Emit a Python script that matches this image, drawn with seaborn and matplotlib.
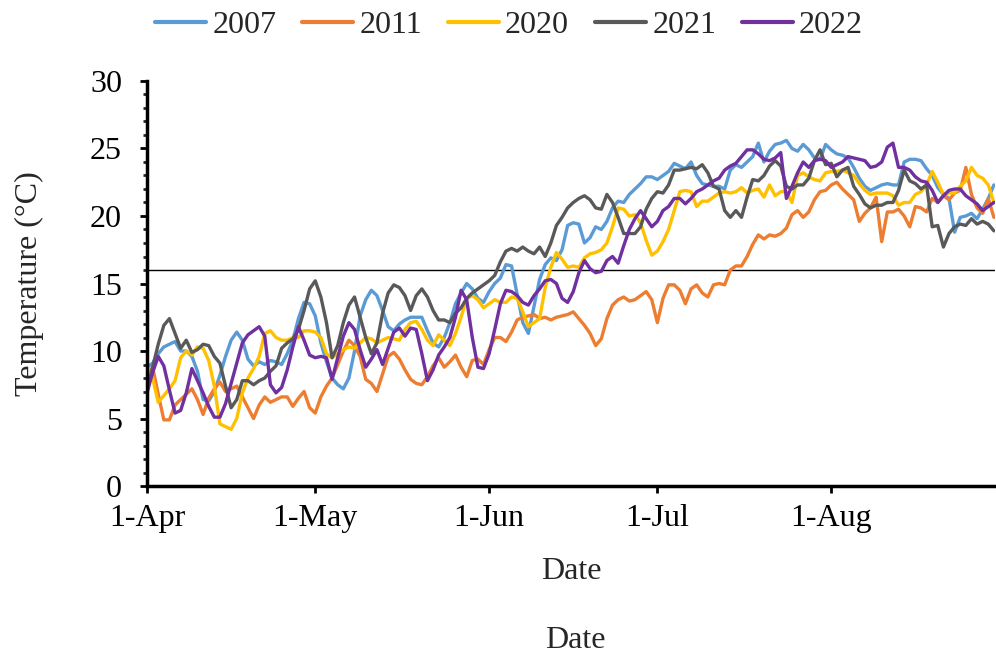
import pandas as pd
import matplotlib
matplotlib.use('Agg')
import matplotlib.pyplot as plt
from matplotlib.ticker import MultipleLocator
import seaborn as sns

# daily mean temperatures, 1 Apr - 30 Aug
t2007 = [8.8, 9.1, 9.8, 10.3, 10.5, 10.7, 10.0, 10.0, 9.6, 8.5,
         6.4, 6.3, 7.0, 8.2, 9.6, 10.8, 11.4, 10.8, 9.4, 8.9,
         9.2, 9.0, 9.3, 9.2, 9.0, 9.8, 10.8, 12.4, 13.6, 13.5,
         12.6, 10.6, 9.2, 8.0, 7.5, 7.2, 8.0, 10.0, 12.6, 13.8,
         14.5, 14.1, 13.0, 11.8, 11.5, 12.0, 12.3, 12.5, 12.5, 12.5,
         11.5, 10.6, 10.3, 11.0, 12.1, 13.5, 14.3, 15.0, 14.6, 13.9,
         13.6, 14.4, 15.0, 15.4, 16.4, 16.3, 14.2, 12.1, 11.3, 13.3,
         15.3, 16.4, 16.9, 16.7, 17.5, 19.3, 19.5, 19.4, 18.0, 18.4,
         19.2, 19.0, 19.6, 20.6, 21.1, 21.0, 21.6, 22.0, 22.4, 22.9,
         22.9, 22.7, 23.0, 23.3, 23.9, 23.7, 23.5, 24.0, 23.0, 22.4,
         22.3, 22.2, 22.2, 22.0, 23.4, 23.8, 23.6, 24.0, 24.4, 25.4,
         24.0, 24.8, 25.3, 25.4, 25.6, 25.0, 24.8, 25.3, 24.9, 24.3,
         24.2, 25.3, 24.9, 24.6, 24.5, 24.3, 23.6, 22.8, 22.2, 21.9,
         22.1, 22.3, 22.4, 22.3, 22.3, 24.0, 24.2, 24.2, 24.1, 23.5,
         23.0, 22.1, 21.6, 21.3, 18.8, 19.9, 20.0, 20.2, 19.8, 20.5,
         21.3, 22.3]
t2011 = [8.2, 8.8, 6.8, 4.9, 4.9, 6.0, 6.4, 6.8, 7.2, 6.4,
         5.3, 6.5, 7.2, 7.7, 7.0, 7.2, 7.4, 6.6, 5.8, 5.0,
         6.0, 6.6, 6.2, 6.4, 6.6, 6.6, 5.9, 6.5, 7.0, 5.8,
         5.4, 6.6, 7.4, 8.0, 9.0, 10.0, 10.8, 10.4, 9.6, 7.9,
         7.6, 7.0, 8.3, 9.6, 9.9, 9.4, 8.6, 7.9, 7.6, 7.5,
         8.1, 8.9, 9.5, 8.8, 9.2, 9.7, 8.8, 8.1, 9.3, 9.4,
         9.0, 10.1, 11.0, 11.0, 10.7, 11.4, 12.3, 12.5, 12.6, 12.7,
         12.4, 12.5, 12.3, 12.5, 12.6, 12.7, 12.9, 12.4, 11.9, 11.3,
         10.4, 10.9, 12.4, 13.4, 13.8, 14.0, 13.7, 13.8, 14.1, 14.4,
         13.8, 12.1, 13.9, 14.9, 14.9, 14.5, 13.5, 14.6, 14.9, 14.3,
         14.0, 14.9, 15.0, 14.9, 16.0, 16.3, 16.3, 17.0, 17.9, 18.6,
         18.3, 18.6, 18.5, 18.7, 19.1, 20.1, 20.4, 19.9, 20.3, 21.2,
         21.8, 21.9, 22.3, 22.5, 22.0, 21.6, 21.2, 19.6, 20.2, 20.6,
         21.4, 18.1, 20.3, 20.3, 20.5, 20.0, 19.2, 20.7, 20.6, 20.3,
         21.3, 21.0, 21.5, 21.2, 21.7, 21.9, 23.6, 21.6, 20.6, 20.2,
         21.3, 19.9]
t2020 = [8.8, 8.0, 6.2, 6.7, 7.2, 7.8, 9.5, 10.0, 9.7, 10.3,
         10.2, 9.3, 7.4, 4.6, 4.4, 4.2, 5.0, 6.9, 8.0, 8.7,
         9.6, 11.3, 11.5, 11.0, 10.8, 10.8, 11.0, 11.0, 11.5, 11.5,
         11.4, 11.0, 9.8, 9.5, 9.8, 10.1, 10.3, 10.2, 10.6, 11.0,
         10.9, 10.6, 10.8, 11.0, 10.9, 10.8, 11.6, 12.1, 12.2, 11.6,
         10.8, 10.4, 11.2, 10.8, 10.4, 11.3, 12.5, 13.9, 14.1, 13.8,
         13.2, 13.5, 13.8, 13.6, 13.6, 14.0, 13.9, 12.9, 11.8, 12.1,
         12.4, 14.7, 16.2, 17.3, 16.8, 16.2, 16.3, 16.2, 16.9, 17.2,
         17.3, 17.5, 18.0, 19.2, 20.6, 20.5, 20.0, 20.1, 19.5, 18.2,
         17.1, 17.4, 18.1, 19.0, 20.4, 21.8, 21.9, 21.8, 20.7, 21.1,
         21.1, 21.4, 21.7, 21.8, 21.7, 21.8, 22.1, 21.7, 21.9, 22.0,
         21.4, 22.3, 21.5, 21.8, 21.8, 21.0, 23.0, 23.2, 22.9, 22.7,
         22.6, 23.2, 23.3, 23.3, 23.4, 23.2, 23.0, 22.4, 21.9, 21.6,
         21.7, 21.7, 21.7, 21.5, 20.8, 21.0, 21.0, 21.6, 21.8, 22.3,
         23.3, 22.5, 21.6, 21.7, 21.7, 22.2, 22.6, 23.6, 23.0, 22.8,
         22.3, 21.0]
t2021 = [7.1, 8.8, 10.5, 11.9, 12.4, 11.3, 10.2, 10.8, 9.9, 10.1,
         10.5, 10.4, 9.6, 9.1, 7.4, 5.8, 6.4, 7.8, 7.8, 7.5,
         7.8, 8.0, 8.5, 8.9, 10.2, 10.6, 10.9, 11.6, 13.0, 14.6,
         15.2, 14.0, 12.1, 9.5, 10.4, 12.1, 13.4, 14.0, 12.5, 11.0,
         9.8, 10.6, 12.8, 14.3, 14.9, 14.7, 14.1, 13.0, 14.1, 14.6,
         14.0, 13.0, 12.3, 12.3, 12.1, 12.8, 13.2, 13.9, 14.3, 14.6,
         14.9, 15.2, 15.6, 16.6, 17.4, 17.6, 17.4, 17.7, 17.4, 17.2,
         17.7, 17.0, 18.0, 19.3, 19.9, 20.6, 21.0, 21.3, 21.5, 21.2,
         20.6, 20.5, 21.6, 21.0, 19.9, 18.7, 18.7, 18.7, 19.2, 20.5,
         21.3, 21.8, 21.7, 22.3, 23.4, 23.4, 23.5, 23.6, 23.5, 23.8,
         23.2, 22.2, 22.0, 20.4, 19.9, 20.4, 19.9, 21.4, 22.7, 22.6,
         23.0, 23.7, 24.1, 23.7, 22.2, 22.0, 22.3, 22.3, 22.8, 24.1,
         24.9, 23.8, 23.9, 22.9, 23.4, 23.6, 22.2, 21.6, 20.9, 20.6,
         20.8, 20.8, 21.0, 21.0, 21.9, 23.4, 22.6, 22.4, 22.0, 22.3,
         19.2, 19.3, 17.7, 18.7, 19.2, 19.4, 19.3, 19.8, 19.4, 19.6,
         19.4, 18.9]
t2022 = [6.9, 8.4, 9.6, 8.9, 7.1, 5.4, 5.6, 6.9, 8.7, 7.8,
         6.9, 5.9, 5.1, 5.1, 6.1, 7.6, 9.1, 10.6, 11.2, 11.5,
         11.8, 11.1, 7.5, 6.9, 7.3, 8.6, 10.3, 11.8, 10.8, 9.7,
         9.5, 9.6, 9.5, 7.9, 9.5, 11.1, 12.1, 11.6, 10.1, 8.8,
         9.4, 10.1, 9.0, 10.2, 11.4, 11.7, 11.1, 11.7, 11.6, 9.8,
         7.8, 8.6, 9.7, 10.3, 11.0, 12.5, 14.5, 13.8, 11.0, 8.8,
         8.7, 9.8, 11.6, 13.5, 14.5, 14.4, 14.1, 13.6, 13.4, 14.1,
         14.6, 15.2, 15.3, 15.0, 13.9, 13.6, 14.4, 15.8, 16.7, 16.1,
         15.8, 15.9, 16.7, 17.0, 16.5, 17.8, 19.0, 19.8, 20.4, 19.8,
         19.2, 19.6, 20.4, 20.7, 21.3, 21.3, 20.9, 21.3, 21.8, 22.0,
         22.3, 22.6, 22.8, 23.4, 23.7, 23.9, 24.4, 24.9, 24.9, 24.6,
         24.2, 24.1, 24.3, 24.7, 21.3, 22.2, 23.2, 24.0, 23.6, 24.1,
         24.2, 24.1, 23.6, 23.8, 24.0, 24.4, 24.3, 24.2, 24.1, 23.6,
         23.7, 24.0, 25.1, 25.4, 23.6, 23.6, 23.4, 22.9, 22.6, 22.5,
         21.9, 21.0, 21.5, 21.9, 22.0, 22.0, 21.5, 21.2, 20.9, 20.4,
         20.7, 21.0]

years = ['2007', '2011', '2020', '2021', '2022']
colors = ['#5B9BD5', '#ED7D31', '#FFC000', '#595959', '#7030A0']
tick_dates = ['2022-04-01', '2022-05-01', '2022-06-01', '2022-07-01', '2022-08-01']
tick_labels = ['1-Apr', '1-May', '1-Jun', '1-Jul', '1-Aug']
threshold = 16

dates = pd.date_range('2022-04-01', periods=len(t2007), freq='D')
frames = []
for yr, vals in zip(years, [t2007, t2011, t2020, t2021, t2022]):
    frames.append(pd.DataFrame({'Date': dates, 'Temp': vals, 'Year': yr}))
df = pd.concat(frames, ignore_index=True)

sns.set_style('ticks')
plt.rcParams['font.family'] = ['Liberation Serif', 'DejaVu Serif']
fs = 23
plt.rcParams['font.size'] = fs

fig = plt.figure(figsize=(9.96, 6.59), dpi=100)
ax = fig.add_axes([0.1476, 0.2625, 0.8514, 0.6146])

sns.lineplot(data=df, x='Date', y='Temp', hue='Year', hue_order=years,
             palette=colors, linewidth=2.4, ax=ax)
ax.axhline(threshold, color='black', linewidth=1.0, zorder=1)

ax.set_xlim(dates[0], dates[0] + pd.Timedelta(days=151.2))
ax.set_ylim(0, 30)
ax.set_xticks(pd.to_datetime(tick_dates))
ax.set_xticklabels(tick_labels)
ax.yaxis.set_major_locator(MultipleLocator(5))
ax.yaxis.set_minor_locator(MultipleLocator(1))

for s in ['top', 'right']:
    ax.spines[s].set_visible(False)
for s in ['left', 'bottom']:
    ax.spines[s].set_linewidth(2.5)
    ax.spines[s].set_color('black')
ax.tick_params(axis='y', which='major', length=5, width=2, pad=13, labelsize=fs, colors='black')
ax.tick_params(axis='y', which='minor', length=3, width=2)
ax.tick_params(axis='x', which='major', length=5, width=2, pad=8, labelsize=fs, colors='black')

ax.set_xlabel('Date', fontsize=fs)
ax.set_ylabel('Temperature (°C)', fontsize=fs)
ax.xaxis.set_label_coords(0.5, -0.175)
ax.yaxis.set_label_coords(-0.122, 0.5)

sns.move_legend(ax, 'center', bbox_to_anchor=(0.511, 0.962), bbox_transform=fig.transFigure,
                ncol=5, frameon=False, title=None, fontsize=fs, handlelength=1.6,
                handletextpad=0.2, columnspacing=0.8)
for line in ax.get_legend().get_lines():
    line.set_linewidth(3)

fig.text(575 / 996, 1 - 640 / 659, 'Date', ha='center', va='center', fontsize=fs)

fig.savefig('out.png', dpi=100)
